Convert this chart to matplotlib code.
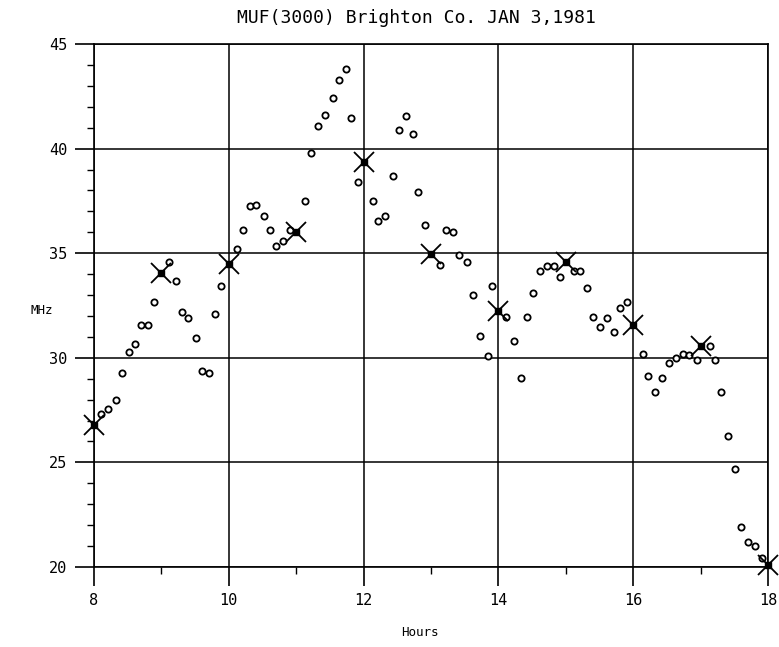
"""MUF(3000) 일중 변화 플롯

Brighton Co. 1981년 1월 3일 MUF 측정값(○)과 매시 대표값(×)을 그린다.
"""

import matplotlib

matplotlib.use("Agg")
import matplotlib.pyplot as plt
from matplotlib.ticker import MultipleLocator

# 측정값 (시각, MHz)
obs_hours = [
    8.11, 8.21, 8.32, 8.41, 8.52, 8.61, 8.69, 8.80, 8.89,
    9.11, 9.21, 9.31, 9.40, 9.51, 9.60, 9.70, 9.80, 9.89,
    10.12, 10.21, 10.32, 10.41, 10.52, 10.61, 10.70, 10.81, 10.91,
    11.13, 11.22, 11.32, 11.42, 11.54, 11.63, 11.74, 11.82, 11.91,
    12.14, 12.22, 12.32, 12.43, 12.53, 12.63, 12.73, 12.81, 12.91,
    13.13, 13.22, 13.33, 13.42, 13.53, 13.62, 13.73, 13.84, 13.91,
    14.12, 14.23, 14.33, 14.42, 14.52, 14.62, 14.72, 14.82, 14.92,
    15.12, 15.21, 15.31, 15.41, 15.51, 15.61, 15.71, 15.80, 15.91,
    16.14, 16.22, 16.32, 16.42, 16.53, 16.63, 16.74, 16.83, 16.94,
    17.14, 17.22, 17.31, 17.41, 17.51, 17.60, 17.70, 17.80, 17.91,
]
obs_mhz = [
    27.3, 27.57, 28.0, 29.27, 30.3, 30.67, 31.58, 31.58, 32.66,
    34.58, 33.68, 32.2, 31.88, 30.97, 29.38, 29.26, 32.1, 33.43,
    35.22, 36.13, 37.27, 37.32, 36.8, 36.13, 35.36, 35.59, 36.1,
    37.5, 39.8, 41.09, 41.6, 42.4, 43.28, 43.79, 41.47, 38.4,
    37.5, 36.55, 36.76, 38.67, 40.9, 41.56, 40.69, 37.94, 36.33,
    34.43, 36.13, 36.03, 34.91, 34.6, 32.98, 31.03, 30.07, 33.43,
    31.95, 30.8, 29.05, 31.95, 33.1, 34.13, 34.38, 34.38, 33.87,
    34.15, 34.15, 33.34, 31.93, 31.47, 31.91, 31.24, 32.4, 32.69,
    30.18, 29.14, 28.37, 29.05, 29.75, 29.97, 30.2, 30.11, 29.88,
    30.56, 29.89, 28.37, 26.27, 24.68, 21.89, 21.21, 21.0, 20.41,
]

# 매시 대표값
hourly_hours = [8, 9, 10, 11, 12, 13, 14, 15, 16, 17, 18]
hourly_mhz = [26.8, 34.05, 34.5, 36.0, 39.35, 34.95, 32.25, 34.6, 31.55, 30.55, 20.1]

x_ticks = [8, 10, 12, 14, 16, 18]
y_ticks = [20, 25, 30, 35, 40, 45]

FONT = "DejaVu Sans Mono"

fig = plt.figure(figsize=(7.79, 6.47), dpi=100)
ax = fig.add_axes([94 / 779, 1 - 567 / 647, 674 / 779, 523 / 647])

# 측정값 (열린 원)
ax.plot(obs_hours, obs_mhz, linestyle="none", marker="o", markersize=4.5,
        markerfacecolor="white", markeredgecolor="black", markeredgewidth=1.3,
        zorder=3)

# 매시 대표값 (× + 채워진 사각형)
ax.plot(hourly_hours, hourly_mhz, linestyle="none", marker="x", markersize=15,
        markeredgewidth=1.3, color="black", zorder=4, clip_on=False)
ax.plot(hourly_hours, hourly_mhz, linestyle="none", marker="s", markersize=5,
        color="black", zorder=5, clip_on=False)

# 축 설정
ax.set_xlim(8, 18)
ax.set_ylim(20, 45)
ax.set_xticks(x_ticks)
ax.set_yticks(y_ticks)
ax.set_xticklabels([str(t) for t in x_ticks], family=FONT, fontsize=11)
ax.set_yticklabels([str(t) for t in y_ticks], family=FONT, fontsize=11)
ax.xaxis.set_minor_locator(MultipleLocator(1))
ax.yaxis.set_minor_locator(MultipleLocator(1))
ax.tick_params(which="major", direction="out", length=14, width=1.2, pad=5)
ax.tick_params(which="minor", direction="out", length=5, width=1.0)
ax.grid(True, which="major", color="black", linewidth=1.1)
for spine in ax.spines.values():
    spine.set_linewidth(1.2)

# 텍스트
fig.text(416 / 779, 1 - 18 / 647, "MUF(3000) Brighton Co. JAN 3,1981",
         ha="center", va="center", family=FONT, fontsize=13)
fig.text(42 / 779, 1 - 311 / 647, "MHz", ha="center", va="center",
         family=FONT, fontsize=9)
fig.text(420 / 779, 1 - 632 / 647, "Hours", ha="center", va="center",
         family=FONT, fontsize=9)

fig.savefig("out.png", dpi=100)
plt.close(fig)
